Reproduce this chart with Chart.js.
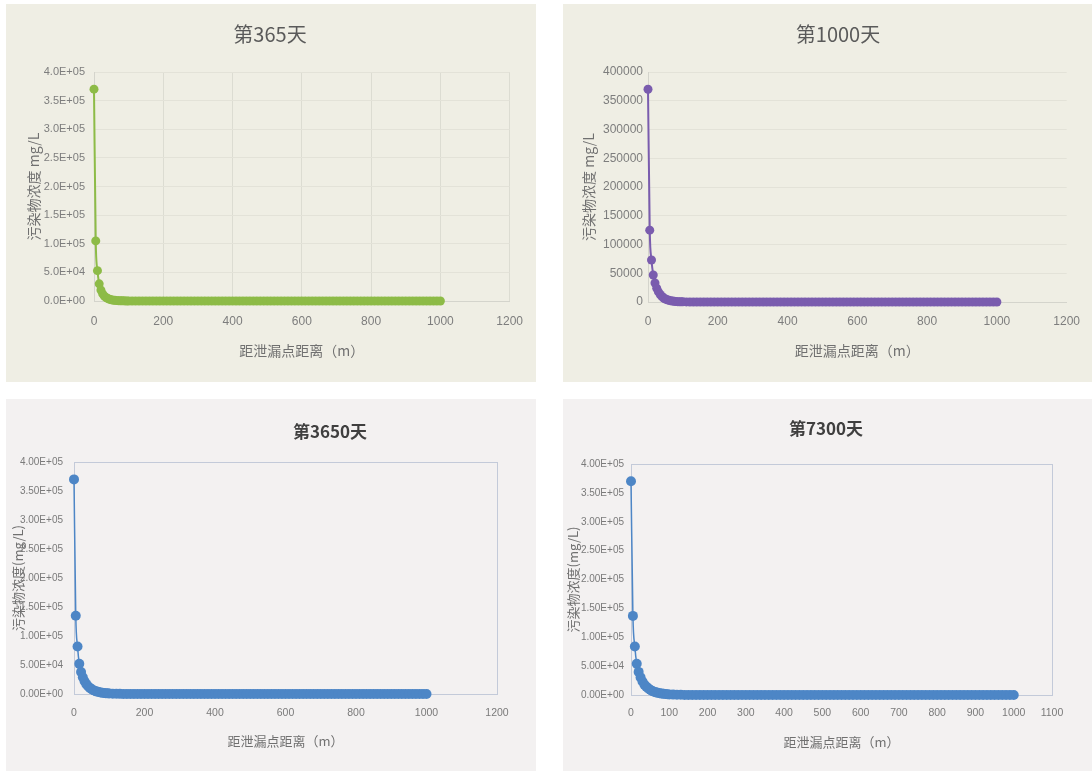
<!DOCTYPE html>
<html>
<head>
<meta charset="utf-8">
<title>泄漏点下游污染物浓度分布</title>
<script src="https://cdn.jsdelivr.net/npm/chart.js@4/dist/chart.umd.min.js"></script>
<style>
  html, body { margin: 0; padding: 0; background: #ffffff; }
  body { width: 1092px; height: 771px; position: relative; overflow: hidden; }
  .panel { position: absolute; }
  .panel canvas { position: absolute; left: 0; top: 0; }
  .ptitle {
    position: absolute; transform: translate(-50%, -50%); white-space: nowrap;
    font-family: "Noto Sans CJK SC", "Noto Sans", sans-serif;
  }
  .top { background: #efeee4; }
  .bottom { background: #f3f1f1; }
</style>
</head>
<body>

<div class="panel top" style="left:6px;top:4px;width:530px;height:378px;">
  <canvas id="c365" width="530" height="378"></canvas>
  <div class="ptitle" id="t365" style="left:264px;top:29px;font-size:20px;color:#5a5a5a;"></div>
</div>
<div class="panel top" style="left:563px;top:4px;width:529px;height:378px;">
  <canvas id="c1000" width="529" height="378"></canvas>
  <div class="ptitle" id="t1000" style="left:275px;top:29px;font-size:20px;color:#5a5a5a;"></div>
</div>
<div class="panel bottom" style="left:6px;top:399px;width:530px;height:372px;">
  <canvas id="c3650" width="530" height="372"></canvas>
  <div class="ptitle" id="t3650" style="left:324px;top:31px;font-size:17px;font-weight:bold;color:#3f3f3f;"></div>
</div>
<div class="panel bottom" style="left:563px;top:399px;width:529px;height:372px;">
  <canvas id="c7300" width="529" height="372"></canvas>
  <div class="ptitle" id="t7300" style="left:263px;top:28px;font-size:17px;font-weight:bold;color:#3f3f3f;"></div>
</div>

<script>
// Distance from the leak point (m)
const distance = [
  0, 5, 10, 15, 20, 25, 30, 35, 40, 45, 50, 55, 60, 65, 70, 75, 80, 85, 90, 95,
  100, 110, 120, 130, 140, 150, 160, 170, 180, 190,
  200, 210, 220, 230, 240, 250, 260, 270, 280, 290,
  300, 310, 320, 330, 340, 350, 360, 370, 380, 390,
  400, 410, 420, 430, 440, 450, 460, 470, 480, 490,
  500, 510, 520, 530, 540, 550, 560, 570, 580, 590,
  600, 610, 620, 630, 640, 650, 660, 670, 680, 690,
  700, 710, 720, 730, 740, 750, 760, 770, 780, 790,
  800, 810, 820, 830, 840, 850, 860, 870, 880, 890,
  900, 910, 920, 930, 940, 950, 960, 970, 980, 990,
  1000
];

// Pollutant concentration (mg/L), day 365
const conc365 = [
  370000, 105000, 53000, 30000, 19000, 12500, 8500, 6000, 4200, 3000,
  2100, 1500, 1100, 800, 600, 430, 310, 220, 160, 110,
  80, 40, 20, 10, 5, 2, 1, 0, 0, 0,
  0, 0, 0, 0, 0, 0, 0, 0, 0, 0,
  0, 0, 0, 0, 0, 0, 0, 0, 0, 0,
  0, 0, 0, 0, 0, 0, 0, 0, 0, 0,
  0, 0, 0, 0, 0, 0, 0, 0, 0, 0,
  0, 0, 0, 0, 0, 0, 0, 0, 0, 0,
  0, 0, 0, 0, 0, 0, 0, 0, 0, 0,
  0, 0, 0, 0, 0, 0, 0, 0, 0, 0,
  0, 0, 0, 0, 0, 0, 0, 0, 0, 0,
  0
];

// Pollutant concentration (mg/L), day 1000
const conc1000 = [
  370000, 125000, 73000, 47000, 33000, 24000, 17500, 13000, 9500, 7000,
  5200, 3900, 2900, 2100, 1600, 1200, 900, 650, 480, 350,
  260, 140, 80, 40, 20, 10, 5, 3, 2, 1,
  0, 0, 0, 0, 0, 0, 0, 0, 0, 0,
  0, 0, 0, 0, 0, 0, 0, 0, 0, 0,
  0, 0, 0, 0, 0, 0, 0, 0, 0, 0,
  0, 0, 0, 0, 0, 0, 0, 0, 0, 0,
  0, 0, 0, 0, 0, 0, 0, 0, 0, 0,
  0, 0, 0, 0, 0, 0, 0, 0, 0, 0,
  0, 0, 0, 0, 0, 0, 0, 0, 0, 0,
  0, 0, 0, 0, 0, 0, 0, 0, 0, 0,
  0
];

// Pollutant concentration (mg/L), day 3650
const conc3650 = [
  370000, 135000, 82000, 52000, 38000, 29000, 22000, 17000, 13500, 10500,
  8300, 6500, 5200, 4100, 3300, 2600, 2100, 1700, 1350, 1100,
  900, 600, 400, 260, 170, 110, 70, 45, 30, 20,
  12, 8, 5, 3, 2, 1, 1, 0, 0, 0,
  0, 0, 0, 0, 0, 0, 0, 0, 0, 0,
  0, 0, 0, 0, 0, 0, 0, 0, 0, 0,
  0, 0, 0, 0, 0, 0, 0, 0, 0, 0,
  0, 0, 0, 0, 0, 0, 0, 0, 0, 0,
  0, 0, 0, 0, 0, 0, 0, 0, 0, 0,
  0, 0, 0, 0, 0, 0, 0, 0, 0, 0,
  0, 0, 0, 0, 0, 0, 0, 0, 0, 0,
  0
];

// Pollutant concentration (mg/L), day 7300
const conc7300 = [
  370000, 137000, 84000, 54000, 40000, 30500, 23500, 18000, 14500, 11500,
  9000, 7200, 5800, 4600, 3700, 3000, 2400, 1950, 1600, 1300,
  1050, 700, 470, 310, 210, 140, 90, 60, 40, 26,
  17, 11, 7, 5, 3, 2, 1, 1, 0, 0,
  0, 0, 0, 0, 0, 0, 0, 0, 0, 0,
  0, 0, 0, 0, 0, 0, 0, 0, 0, 0,
  0, 0, 0, 0, 0, 0, 0, 0, 0, 0,
  0, 0, 0, 0, 0, 0, 0, 0, 0, 0,
  0, 0, 0, 0, 0, 0, 0, 0, 0, 0,
  0, 0, 0, 0, 0, 0, 0, 0, 0, 0,
  0, 0, 0, 0, 0, 0, 0, 0, 0, 0,
  0
];

// Tick labels
const yTicksSci1 = ['0.0E+00', '5.0E+04', '1.0E+05', '1.5E+05', '2.0E+05', '2.5E+05', '3.0E+05', '3.5E+05', '4.0E+05'];
const yTicksPlain = ['0', '50000', '100000', '150000', '200000', '250000', '300000', '350000', '400000'];
const yTicksSci2 = ['0.00E+00', '5.00E+04', '1.00E+05', '1.50E+05', '2.00E+05', '2.50E+05', '3.00E+05', '3.50E+05', '4.00E+05'];
const xTicks200 = ['0', '200', '400', '600', '800', '1000', '1200'];
const xTicks100 = ['0', '100', '200', '300', '400', '500', '600', '700', '800', '900', '1000', '1100'];

// Text
const chartTitles = { t365: '第365天', t1000: '第1000天', t3650: '第3650天', t7300: '第7300天' };
const xAxisTitle = '距泄漏点距离（m）';
const yAxisTitleTop = '污染物浓度 mg/L';
const yAxisTitleBottom = '污染物浓度(mg/L)';

for (const id in chartTitles) document.getElementById(id).textContent = chartTitles[id];

const TICK_FONT = "'Liberation Sans Narrow', 'Liberation Sans', Arial, sans-serif";
const CJK_FONT = "'Noto Sans CJK SC', 'Noto Sans', sans-serif";

// Draws a rectangle round the plot area
const plotFrame = {
  id: 'plotFrame',
  beforeDatasetsDraw(chart, args, opts) {
    if (!opts || !opts.color) return;
    const a = chart.chartArea, ctx = chart.ctx;
    ctx.save();
    ctx.strokeStyle = opts.color;
    ctx.lineWidth = 1;
    ctx.strokeRect(Math.round(a.left) + 0.5, Math.round(a.top) + 0.5,
                   Math.round(a.right - a.left), Math.round(a.bottom - a.top));
    ctx.restore();
  }
};

function makeChart(canvasId, o) {
  return new Chart(document.getElementById(canvasId), {
    type: 'scatter',
    data: {
      datasets: [{
        data: distance.map((d, i) => ({ x: d, y: o.values[i] })),
        showLine: true,
        borderColor: o.color,
        borderWidth: o.lineWidth,
        backgroundColor: o.color,
        pointBackgroundColor: o.color,
        pointBorderColor: o.color,
        pointBorderWidth: 0,
        pointRadius: o.radius,
        cubicInterpolationMode: 'monotone',
        clip: false
      }]
    },
    options: {
      responsive: false,
      animation: false,
      events: [],
      layout: { padding: o.pad },
      plugins: {
        legend: { display: false },
        tooltip: { enabled: false },
        plotFrame: { color: o.frameColor || null }
      },
      scales: {
        x: {
          type: 'linear',
          min: 0, max: o.xMax,
          ticks: {
            stepSize: o.xStep, autoSkip: false, maxRotation: 0,
            padding: o.xTickPad, color: o.tickColor,
            font: { family: TICK_FONT, size: o.xTickSize },
            callback: (v, i) => o.xLabels[i]
          },
          grid: { display: o.gridX !== null, drawTicks: false, color: o.gridX || 'transparent', lineWidth: 1 },
          border: { display: !!o.axisColor, color: o.axisColor || 'transparent' },
          title: {
            display: true, text: xAxisTitle, color: o.titleColor,
            font: { family: CJK_FONT, size: o.xTitleSize },
            padding: { top: 0, bottom: o.xTitlePad }
          },
          afterFit: s => { s.height = o.xHeight; }
        },
        y: {
          type: 'linear',
          min: 0, max: 400000,
          ticks: {
            stepSize: 50000, autoSkip: false,
            padding: o.yTickPad, color: o.tickColor,
            font: { family: TICK_FONT, size: o.yTickSize },
            callback: (v, i) => o.yLabels[i]
          },
          grid: { display: o.gridY !== null, drawTicks: false, color: o.gridY || 'transparent', lineWidth: 1 },
          border: { display: !!o.axisColor, color: o.axisColor || 'transparent' },
          title: {
            display: true, text: o.yTitle, color: o.titleColor,
            font: { family: CJK_FONT, size: o.yTitleSize },
            padding: { top: o.yTitlePad, bottom: 0 }
          },
          afterFit: s => { s.width = o.yWidth; }
        }
      }
    },
    plugins: [plotFrame]
  });
}

makeChart('c365', {
  values: conc365, color: '#8dbb47', lineWidth: 2, radius: 4.5,
  pad: { left: 0, top: 68, right: 21, bottom: 0 },
  xMax: 1200, xStep: 200, xLabels: xTicks200, yLabels: yTicksSci1,
  xTickPad: 13, yTickPad: 9, xTickSize: 12, yTickSize: 11,
  tickColor: '#7d7d7d', titleColor: '#707070',
  gridX: '#dcdcd2', gridY: '#e3e2d8', axisColor: '#d4d4cc',
  yTitle: yAxisTitleTop, yTitleSize: 14, yTitlePad: 19, xTitleSize: 14, xTitlePad: 23,
  xHeight: 81, yWidth: 88
});

makeChart('c1000', {
  values: conc1000, color: '#7a5cae', lineWidth: 2, radius: 4.5,
  pad: { left: 0, top: 68, right: 20, bottom: 0 },
  xMax: 1200, xStep: 200, xLabels: xTicks200, yLabels: yTicksPlain,
  xTickPad: 12, yTickPad: 5, xTickSize: 12, yTickSize: 12,
  tickColor: '#7d7d7d', titleColor: '#707070',
  gridX: null, gridY: '#e3e2d8', axisColor: '#d4d4cc',
  yTitle: yAxisTitleTop, yTitleSize: 14, yTitlePad: 17, xTitleSize: 14, xTitlePad: 23,
  xHeight: 80, yWidth: 85
});

makeChart('c3650', {
  values: conc3650, color: '#4d86c6', lineWidth: 1.5, radius: 5,
  pad: { left: 0, top: 63, right: 39, bottom: 0 },
  xMax: 1200, xStep: 200, xLabels: xTicks200, yLabels: yTicksSci2,
  xTickPad: 13, yTickPad: 11, xTickSize: 10.5, yTickSize: 10,
  tickColor: '#7a7a7a', titleColor: '#707070',
  gridX: null, gridY: null, axisColor: null, frameColor: '#c3cad9',
  yTitle: yAxisTitleBottom, yTitleSize: 13, yTitlePad: 4, xTitleSize: 13, xTitlePad: 22,
  xHeight: 77, yWidth: 68
});

makeChart('c7300', {
  values: conc7300, color: '#4d86c6', lineWidth: 1.5, radius: 5,
  pad: { left: 0, top: 65, right: 40, bottom: 0 },
  xMax: 1100, xStep: 100, xLabels: xTicks100, yLabels: yTicksSci2,
  xTickPad: 12, yTickPad: 7, xTickSize: 10.5, yTickSize: 10,
  tickColor: '#7a7a7a', titleColor: '#707070',
  gridX: null, gridY: null, axisColor: null, frameColor: '#c3cad9',
  yTitle: yAxisTitleBottom, yTitleSize: 13, yTitlePad: 2, xTitleSize: 13, xTitlePad: 21,
  xHeight: 76, yWidth: 68
});
</script>
</body>
</html>
